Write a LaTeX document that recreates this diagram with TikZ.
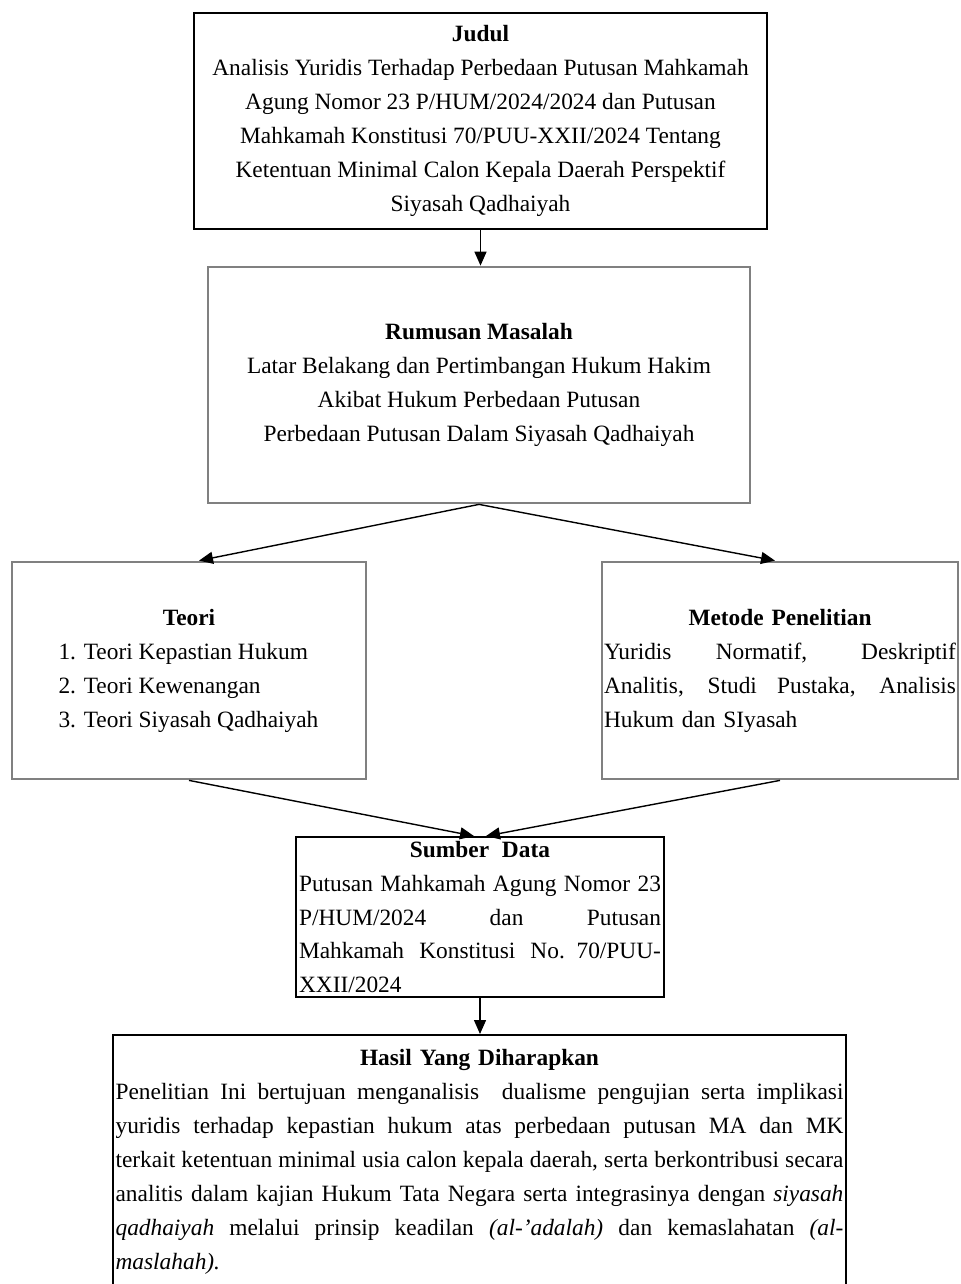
\documentclass[tikz,border=0pt]{standalone}
\usepackage{fontspec}
\setmainfont{Liberation Serif}
\usetikzlibrary{arrows.meta}

\newcommand{\schrift}{\fontsize{13.3}{19.35}\selectfont}
\newcommand{\vollzeile}[1]{\makebox[\hsize][s]{\spaceskip=.25em plus 1fil minus .05em\relax #1}}
\newcommand{\mittezeile}[1]{\makebox[\hsize][c]{#1}}

\tikzset{
	kasten/.style={draw=black, line width=1.1pt, inner sep=0pt, align=center, font=\schrift},
	graukasten/.style={draw=gray, line width=1.6pt, inner sep=0pt, align=center, font=\schrift},
	blockkasten/.style={draw=black, line width=1.1pt, inner xsep=0pt, inner ysep=0pt, align=left, font=\schrift},
	pfeil/.style={-{Triangle[length=0.28cm,width=0.24cm]}, line width=0.8pt},
}

\begin{document}
\begin{tikzpicture}[x=0.02cm,y=-0.02cm]
	% Seite: 960 x 1284
	\useasboundingbox (0,0) rectangle (960,1284);
	\node[kasten, minimum width=11.46cm, minimum height=4.32cm] (judul) at (480.5,121)
		{\textbf{Judul}\\
		Analisis Yuridis Terhadap Perbedaan Putusan Mahkamah\\
		Agung Nomor 23 P/HUM/2024/2024 dan Putusan\\
		Mahkamah Konstitusi 70/PUU-XXII/2024 Tentang\\
		Ketentuan Minimal Calon Kepala Daerah Perspektif\\
		Siyasah Qadhaiyah};
	\node[graukasten, minimum width=10.84cm, minimum height=4.72cm] (rumusan) at (479,385)
		{\textbf{Rumusan Masalah}\\
		Latar Belakang dan Pertimbangan Hukum Hakim\\
		Akibat Hukum Perbedaan Putusan\\
		Perbedaan Putusan Dalam Siyasah Qadhaiyah};
	\node[graukasten, minimum width=7.08cm, minimum height=4.34cm] (teori) at (189,670.5)
		{\textbf{Teori}\\
		\makebox[5.22cm][l]{1. Teori Kepastian Hukum}\\
		\makebox[5.22cm][l]{2. Teori Kewenangan}\\
		\makebox[5.22cm][l]{3. Teori Siyasah Qadhaiyah}};
	\node[graukasten, align=left, text width=7.04cm, minimum width=7.12cm, minimum height=4.34cm] (metode) at (780,670.5)
		{\mittezeile{\textbf{Metode Penelitian}}\\
		\vollzeile{Yuridis Normatif, Deskriptif}\\
		\vollzeile{Analitis, Studi Pustaka, Analisis}\\
		Hukum dan SIyasah};
	\node[blockkasten, text width=7.24cm, minimum width=7.36cm, minimum height=3.2cm] (sumber) at (480,917)
		{\mittezeile{\textbf{Sumber\hspace{0.55em}Data}}\\
		\vollzeile{Putusan Mahkamah Agung Nomor 23}\\
		\vollzeile{P/HUM/2024 dan Putusan}\\
		\vollzeile{Mahkamah Konstitusi No. 70/PUU-}\\
		XXII/2024};
	\node[blockkasten, anchor=north, inner ysep=0.28cm, text width=14.56cm, minimum width=14.66cm] (hasil) at (479.5,1034)
		{\mittezeile{\textbf{Hasil Yang Diharapkan}}\\
		\vollzeile{Penelitian Ini bertujuan menganalisis\ \ dualisme pengujian serta implikasi}\\
		\vollzeile{yuridis terhadap kepastian hukum atas perbedaan putusan MA dan MK}\\
		\vollzeile{terkait ketentuan minimal usia calon kepala daerah, serta berkontribusi secara}\\
		\vollzeile{analitis dalam kajian Hukum Tata Negara serta integrasinya dengan \textit{siyasah}}\\
		\vollzeile{\textit{qadhaiyah} melalui prinsip keadilan \textit{(al-'adalah)} dan kemaslahatan \textit{(al-}}\\
		\textit{maslahah).}};
	\draw[pfeil] (judul.south) -- (judul.south |- rumusan.north);
	\draw[pfeil] (rumusan.south) -- ([xshift=0.2cm]teori.north);
	\draw[pfeil] (rumusan.south) -- ([xshift=-0.1cm]metode.north);
	\draw[pfeil] (teori.south) -- ([xshift=-0.12cm]sumber.north);
	\draw[pfeil] (metode.south) -- ([xshift=0.12cm]sumber.north);
	\draw[pfeil] (sumber.south) -- (sumber.south |- hasil.north);
\end{tikzpicture}
\end{document}
